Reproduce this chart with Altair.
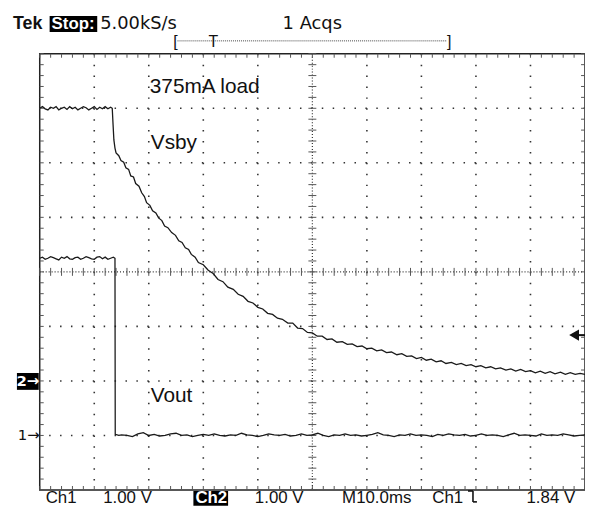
import altair as alt
import pandas as pd
import numpy as np

# ---------------- data (time in ms, voltage in V) ----------------
# Ch2 : Vsby  (1.00 V/div, ground marker at -2 div)
vsby_t = [0, 0.5, 1, 1.5, 2, 2.5, 3, 3.5, 4, 4.5, 5, 5.5, 6, 6.5, 7, 7.5, 8, 8.5, 9, 9.5,
          10, 10.5, 11, 11.5, 12, 12.5, 13, 13.3,
          13.45, 13.6, 13.8, 14.0, 14.5, 14.9, 15.4, 15.8, 16.3, 16.7, 17.2, 17.6, 18.2, 18.7,
          19.2, 19.6, 20.2, 20.7, 21.3, 21.8, 22.4, 22.9, 23.5, 24.2, 24.9, 25.5, 26.1, 26.7,
          27.3, 27.8, 28.5, 29.1, 30.0, 30.9, 31.8, 32.7, 33.6, 34.5, 35.5, 36.4, 37.3, 38.2,
          39.1, 40.0, 40.9, 41.8, 42.7, 43.6, 44.5, 45.5, 46.4, 47.3, 48.2, 49.1, 50.0, 50.9,
          51.8, 52.7, 53.6, 54.5, 55.5, 56.4, 57.3, 58.2, 59.1, 60.0, 60.9, 61.8, 62.7, 63.6,
          64.5, 65.5, 66.4, 67.3, 68.2, 69.1, 70.0, 70.9, 71.8, 72.7, 73.6, 74.5, 75.5, 76.4,
          77.3, 78.2, 79.1, 80.0, 80.9, 81.8, 82.7, 83.6, 84.5, 85.5, 86.4, 87.3, 88.2, 89.1,
          90.0, 90.9, 91.8, 92.7, 93.6, 94.5, 95.5, 96.4, 97.3, 98.2, 99.1, 100.0]
vsby_v = [5.00, 5.03, 4.99, 4.97, 5.02, 5.00, 5.03, 4.97, 5.00, 5.02, 4.98, 5.03, 4.99, 5.02,
          4.97, 5.00, 5.03, 5.01, 4.97, 5.00, 5.03, 4.98, 5.02, 4.99, 5.03, 4.99, 5.02, 5.00,
          4.70, 4.42, 4.27, 4.18, 4.13, 4.04, 4.01, 3.91, 3.88, 3.76, 3.74, 3.62, 3.57, 3.45,
          3.38, 3.27, 3.22, 3.12, 3.08, 2.99, 2.94, 2.84, 2.81, 2.72, 2.67, 2.57, 2.54, 2.44,
          2.41, 2.32, 2.27, 2.17, 2.13, 2.03, 1.97, 1.86, 1.82, 1.72, 1.68, 1.59, 1.55, 1.46,
          1.43, 1.35, 1.32, 1.24, 1.22, 1.15, 1.13, 1.06, 1.06, 0.97, 0.96, 0.89, 0.88, 0.82,
          0.82, 0.76, 0.77, 0.71, 0.72, 0.67, 0.68, 0.63, 0.64, 0.59, 0.60, 0.55, 0.57, 0.52,
          0.53, 0.48, 0.50, 0.45, 0.46, 0.41, 0.43, 0.38, 0.40, 0.35, 0.37, 0.32, 0.34, 0.30,
          0.32, 0.28, 0.30, 0.26, 0.28, 0.24, 0.26, 0.22, 0.24, 0.20, 0.22, 0.18, 0.21, 0.17,
          0.19, 0.15, 0.18, 0.14, 0.17, 0.13, 0.16, 0.12, 0.15, 0.12, 0.14, 0.12]

# Ch1 : Vout  (1.00 V/div, ground marker at -3 div)
vout_t = [0, 0.5, 1, 1.5, 2, 2.5, 3, 3.5, 4, 4.5, 5, 5.5, 6, 6.5, 7, 7.5, 8, 8.5, 9, 9.5,
          10, 10.5, 11, 11.5, 12, 12.5, 13, 13.5, 13.8, 13.85, 14.5] + list(range(15, 101))
vout_v = [3.25, 3.27, 3.23, 3.25, 3.28, 3.26, 3.24, 3.22, 3.27, 3.25, 3.28, 3.24, 3.23, 3.26,
          3.27, 3.23, 3.25, 3.28, 3.26, 3.24, 3.23, 3.27, 3.28, 3.24, 3.27, 3.23, 3.25, 3.27,
          3.25, 0.02, 0.00,
          0.01, 0.00, -0.02, 0.03, 0.05, 0.00, 0.02, -0.01, 0.00, 0.03,
          0.04, 0.00, 0.01, -0.02, 0.00, 0.02, 0.00, 0.03, 0.00, -0.01,
          0.01, 0.00, 0.04, 0.01, 0.00, -0.02, 0.00, 0.03, 0.01, 0.00,
          0.02, -0.01, 0.00, 0.03, 0.00, 0.01, 0.04, 0.00, -0.02, 0.01,
          0.00, 0.03, 0.00, 0.01, -0.01, 0.00, 0.02, 0.05, 0.01, 0.00,
          -0.02, 0.01, 0.00, 0.03, 0.00, 0.01, 0.00, -0.02, 0.02, 0.00,
          0.03, 0.01, 0.00, 0.02, -0.01, 0.00, 0.03, 0.00, 0.01, 0.00,
          -0.02, 0.01, 0.04, 0.00, 0.01, 0.00, -0.01, 0.03, 0.00, 0.01,
          0.00, 0.03, 0.01, -0.01, 0.00, 0.01]

CH1_GROUND_DIV = -3
CH2_GROUND_DIV = -2
VOLTS_PER_DIV = 1.0
TRIGGER_LEVEL_V = 1.84

W, H = 550, 440
XDOM = [0, 100]   # 10 ms/div
YDOM = [-4, 4]    # divisions
xs = alt.Scale(domain=XDOM, nice=False, zero=False)
ys = alt.Scale(domain=YDOM, nice=False, zero=False)

FONT = "Liberation Sans"
INK = "#111111"
GRID = "#333333"

# ---------------- traces ----------------
df1 = pd.DataFrame({"t": vout_t, "v": vout_v, "ch": "Ch1"})
df1["y"] = df1["v"] / VOLTS_PER_DIV + CH1_GROUND_DIV
df1["i"] = range(len(df1))
df2 = pd.DataFrame({"t": vsby_t, "v": vsby_v, "ch": "Ch2"})
df2["y"] = df2["v"] / VOLTS_PER_DIV + CH2_GROUND_DIV
df2["i"] = range(len(df2))
traces = pd.concat([df1, df2], ignore_index=True)

trace_layer = alt.Chart(traces).mark_line(color="#1a1a1a", strokeWidth=1.3, clip=True).encode(
    x=alt.X("t:Q", scale=xs, axis=None),
    y=alt.Y("y:Q", scale=ys, axis=None),
    detail="ch:N",
    order="i:Q",
)

# ---------------- graticule ----------------
vgrid = pd.DataFrame({"x": [10, 20, 30, 40, 60, 70, 80, 90]})
hgrid = pd.DataFrame({"y": [-3, -2, -1, 1, 2, 3]})
vgrid_layer = alt.Chart(vgrid).mark_rule(color=GRID, strokeWidth=1.6, strokeDash=[1.5, 9.5]).encode(
    x=alt.X("x:Q", scale=xs, axis=None))
hgrid_layer = alt.Chart(hgrid).mark_rule(color=GRID, strokeWidth=1.6, strokeDash=[1.5, 9.5]).encode(
    y=alt.Y("y:Q", scale=ys, axis=None))
cx_layer = alt.Chart(pd.DataFrame({"x": [50]})).mark_rule(color=GRID, strokeWidth=1.2, strokeDash=[1, 2]).encode(
    x=alt.X("x:Q", scale=xs, axis=None))
cy_layer = alt.Chart(pd.DataFrame({"y": [0]})).mark_rule(color=GRID, strokeWidth=1.2, strokeDash=[1, 2]).encode(
    y=alt.Y("y:Q", scale=ys, axis=None))

minor_x = np.round(np.arange(0, 100.001, 2), 3)
minor_y = np.round(np.arange(-4, 4.001, 0.2), 3)
tx = 4 / (W / 100.0)   # 4 px in ms
ty = 4 / (H / 8.0)     # 4 px in div
rows = []
for m in minor_x:
    rows.append((m, m, 4, 4 - ty))
    rows.append((m, m, -4, -4 + ty))
    rows.append((m, m, -ty, ty))
for m in minor_y:
    rows.append((0, tx, m, m))
    rows.append((100 - tx, 100, m, m))
    rows.append((50 - tx, 50 + tx, m, m))
ticks = pd.DataFrame(rows, columns=["x", "x2", "y", "y2"])
tick_layer = alt.Chart(ticks).mark_rule(color="#555555", strokeWidth=1).encode(
    x=alt.X("x:Q", scale=xs, axis=None), x2="x2:Q",
    y=alt.Y("y:Q", scale=ys, axis=None), y2="y2:Q")

# trigger level arrow (right edge)
trig = pd.DataFrame({"x": [98.0], "y": [TRIGGER_LEVEL_V / VOLTS_PER_DIV + CH1_GROUND_DIV]})
trig_layer = alt.Chart(trig).mark_point(shape="triangle-left", filled=True, color=INK, size=130, opacity=1).encode(
    x=alt.X("x:Q", scale=xs, axis=None), y=alt.Y("y:Q", scale=ys, axis=None))
trig_bar = alt.Chart(trig).mark_rule(color=INK, strokeWidth=2).encode(
    x=alt.value(541), x2=alt.value(550), y=alt.Y("y:Q", scale=ys, axis=None))

# ---------------- readout text (pixel positions relative to plot) ----------------
boxes = pd.DataFrame({
    "x": [10, 155, -23], "x2": [58, 190, -1],
    "y": [-38, 441, 322], "y2": [-22, 456, 339]})
box_layer = alt.Chart(boxes).mark_rect(color="#000000").encode(
    x=alt.X("x:Q", scale=None), x2="x2:Q", y=alt.Y("y:Q", scale=None), y2="y2:Q")

top_txt = pd.DataFrame({"label": ["5.00kS/s", "1 Acqs"], "x": [61, 245], "y": [-25, -25]})
top_layer = alt.Chart(top_txt).mark_text(font="DejaVu Sans", fontSize=18, align="left", baseline="alphabetic", color=INK).encode(
    x=alt.X("x:Q", scale=None), y=alt.Y("y:Q", scale=None), text="label:N")

bottom_txt = pd.DataFrame({
    "label": ["Ch1", "1.00 V", "1.00 V", "M10.0ms", "Ch1", "1.84 V"],
    "x": [6, 64, 217, 305, 396, 491],
    "y": [453, 453, 453, 453, 453, 453]})
bottom_layer = alt.Chart(bottom_txt).mark_text(font=FONT, fontSize=17, align="left", baseline="alphabetic", color=INK).encode(
    x=alt.X("x:Q", scale=None), y=alt.Y("y:Q", scale=None), text="label:N")

tek_layer = alt.Chart(pd.DataFrame({"label": ["Tek"], "x": [-27], "y": [-25]})).mark_text(
    font=FONT, fontSize=18, fontWeight="bold", align="left", baseline="alphabetic", color=INK).encode(
    x=alt.X("x:Q", scale=None), y=alt.Y("y:Q", scale=None), text="label:N")

white_txt = pd.DataFrame({"label": ["Stop:", "Ch2"], "x": [12, 157], "y": [-25, 453]})
white_layer = alt.Chart(white_txt).mark_text(font=FONT, fontSize=17, fontWeight="bold", align="left", baseline="alphabetic", color="#ffffff").encode(
    x=alt.X("x:Q", scale=None), y=alt.Y("y:Q", scale=None), text="label:N")

marker_w = alt.Chart(pd.DataFrame({"label": ["2→"], "x": [-12], "y": [330.5]})).mark_text(
    font="DejaVu Sans", fontSize=15, fontWeight="bold", align="center", baseline="middle", color="#ffffff").encode(
    x=alt.X("x:Q", scale=None), y=alt.Y("y:Q", scale=None), text="label:N")
marker_b = alt.Chart(pd.DataFrame({"label": ["1→"], "x": [-11], "y": [385]})).mark_text(
    font="DejaVu Sans", fontSize=15, align="center", baseline="middle", color=INK).encode(
    x=alt.X("x:Q", scale=None), y=alt.Y("y:Q", scale=None), text="label:N")

brackets = pd.DataFrame({"label": ["[", "T", "]"], "x": [137, 175, 413], "y": [-12, -12, -12]})
bracket_layer = alt.Chart(brackets).mark_text(font=FONT, fontSize=16, align="center", baseline="middle", color=INK).encode(
    x=alt.X("x:Q", scale=None), y=alt.Y("y:Q", scale=None), text="label:N")
bracket_line = alt.Chart(pd.DataFrame({"x": [139], "x2": [411], "y": [-13]})).mark_rule(
    color="#444444", strokeWidth=1, strokeDash=[1, 1]).encode(
    x=alt.X("x:Q", scale=None), x2="x2:Q", y=alt.Y("y:Q", scale=None))

# falling-edge slope symbol
edge = pd.DataFrame({"x": [432, 437, 437], "x2": [437, 437, 441], "y": [441, 441, 452], "y2": [441, 452, 452]})
edge_layer = alt.Chart(edge).mark_rule(color=INK, strokeWidth=1.6).encode(
    x=alt.X("x:Q", scale=None), x2="x2:Q", y=alt.Y("y:Q", scale=None), y2="y2:Q")

notes = pd.DataFrame({"label": ["375mA load", "Vsby", "Vout"], "x": [111, 112, 112], "y": [40, 96, 351]})
notes_layer = alt.Chart(notes).mark_text(font=FONT, fontSize=21, align="left", baseline="alphabetic", color=INK).encode(
    x=alt.X("x:Q", scale=None), y=alt.Y("y:Q", scale=None), text="label:N")

chart = alt.layer(
    vgrid_layer, hgrid_layer, cx_layer, cy_layer, tick_layer,
    trace_layer, trig_layer, trig_bar,
    box_layer, top_layer, bottom_layer, tek_layer, white_layer, marker_w, marker_b,
    bracket_line, bracket_layer, edge_layer, notes_layer,
).properties(
    width=W, height=H,
    autosize=alt.AutoSizeParams(type="none"),
    padding={"left": 32, "top": 44, "right": 0, "bottom": 14},
    background="#ffffff",
).configure_view(stroke="#222222", strokeWidth=1.5)

chart.save("out.html", embed_options={"renderer": "svg", "actions": False})
